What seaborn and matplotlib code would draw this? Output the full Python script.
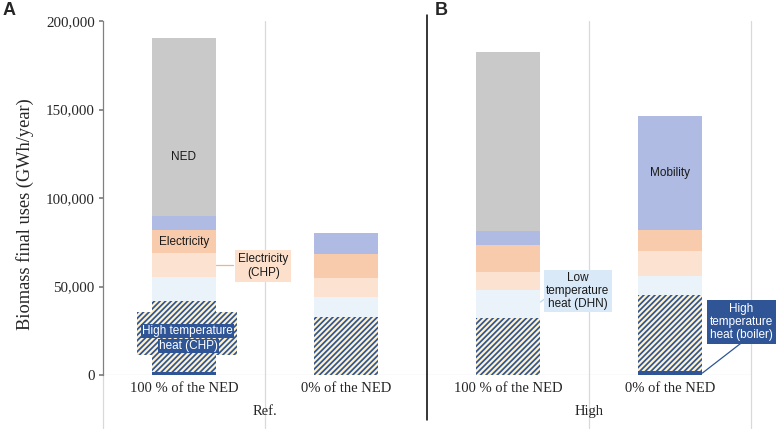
import matplotlib
matplotlib.use('Agg')
import matplotlib.pyplot as plt
import seaborn as sns
from matplotlib.patches import Rectangle
from matplotlib.ticker import FuncFormatter

sns.set_theme(style='white')
plt.rcParams['font.family'] = ['Liberation Serif', 'DejaVu Serif']
plt.rcParams['hatch.linewidth'] = 1.25
sans = ['Liberation Sans', 'DejaVu Sans']

# categories (one key per bar, labels repeat across the two groups)
keys = ['ref_100', 'ref_0', 'high_100', 'high_0']
tick_labels = ['100 % of the NED', '0% of the NED', '100 % of the NED', '0% of the NED']
groups = ['Ref.', 'High']

# GWh/year, stacked bottom -> top
ht_boiler = [1500, 0, 0, 2300]
ht_chp = [40300, 32800, 32200, 42900]
lt_dhn = [13600, 11300, 15800, 10700]
elec_chp = [13500, 10700, 10200, 14100]
elec = [13000, 13600, 15200, 11900]
mobility = [7900, 11800, 8000, 64400]
ned = [100600, 0, 101100, 0]

dark_blue = '#2F5597'
stripes = '//////'
series = [
    (ht_boiler, dict(facecolor=dark_blue, edgecolor=dark_blue)),
    (ht_chp, dict(facecolor='#FFF2CC', edgecolor=dark_blue, hatch=stripes)),
    (lt_dhn, dict(facecolor='#EAF2FA', edgecolor='#EAF2FA')),
    (elec_chp, dict(facecolor='#FCE2D1', edgecolor='#FCE2D1')),
    (elec, dict(facecolor='#F8CBAD', edgecolor='#F8CBAD')),
    (mobility, dict(facecolor='#AFBBE2', edgecolor='#AFBBE2')),
    (ned, dict(facecolor='#C9C9C9', edgecolor='#C9C9C9')),
]

fig, ax = plt.subplots(figsize=(7.82, 4.29), dpi=100)
fig.subplots_adjust(left=103/782, right=751/782, bottom=54/429, top=408/429)

bottom = [0, 0, 0, 0]
for vals, style in series:
    sns.barplot(x=keys, y=vals, order=keys, bottom=bottom, width=0.4,
                color=style['facecolor'], saturation=1, linewidth=0, ax=ax, **style)
    bottom = [b + v for b, v in zip(bottom, vals)]

ax.set_xlim(-0.5, 3.5)
ax.set_ylim(0, 200000)
ax.set_yticks([0, 50000, 100000, 150000, 200000])
ax.yaxis.set_major_formatter(FuncFormatter(lambda v, p: f'{v:,.0f}'))
ax.tick_params(axis='y', labelsize=10.8, length=3, color='#808080', left=True, pad=3)
ax.set_xticks(range(4))
ax.set_xticklabels(tick_labels, fontsize=10.5)
ax.tick_params(axis='x', length=0, pad=5)
ax.set_ylabel('Biomass final uses (GWh/year)', fontsize=13.2)
ax.yaxis.set_label_coords(-0.107, 0.455)
ax.set_xlabel('')

for s in ['top', 'right', 'bottom']:
    ax.spines[s].set_visible(False)
ax.spines['left'].set_color('#808080')
ax.spines['left'].set_linewidth(0.9)

grid_c = '#D9D9D9'
ax.axhline(0, color=grid_c, lw=0.9, zorder=0)
for xv in [0.5, 2.5, 3.5]:
    ax.axvline(xv, ymin=-0.15, ymax=1, color=grid_c, lw=0.9, clip_on=False, zorder=0)
ax.axvline(-0.5, ymin=-0.15, ymax=0, color=grid_c, lw=0.9, clip_on=False, zorder=0)
ax.axvline(1.5, ymin=-0.127, ymax=1.017, color='black', lw=1.1, clip_on=False, zorder=5)

trans = ax.get_xaxis_transform()
for gx, g in zip([0.5, 2.5], groups):
    ax.text(gx, -0.102, g, transform=trans, ha='center', va='center', fontsize=10.5)

# in-bar labels
ax.text(0, 123000, 'NED', ha='center', va='center', fontsize=8.5, family=sans, color='#1a1a1a')
ax.text(0, 75300, 'Electricity', ha='center', va='center', fontsize=8.5, family=sans, color='#1a1a1a')
ax.text(3, 114000, 'Mobility', ha='center', va='center', fontsize=8.5, family=sans, color='#1a1a1a')

# Electricity (CHP) callout
ax.plot([0.2, 0.3], [62000, 62000], color='#F4B183', lw=0.9)
ax.text(0.49, 61600, 'Electricity\n(CHP)', ha='center', va='center', fontsize=8.5,
        family=sans, color='#1a1a1a', linespacing=1.15,
        bbox=dict(boxstyle='square,pad=0.25', fc='#FCE0CC', ec='none'))

# High temperature heat (CHP) callout
ax.add_patch(Rectangle((-0.29, 11300), 0.62, 24300, facecolor='#FFF2CC',
                       edgecolor=dark_blue, hatch=stripes, linewidth=0, zorder=3))
ax.text(0.022, 24700, 'High temperature', ha='center', va='center', fontsize=8.5,
        family=sans, color='white', zorder=4,
        bbox=dict(boxstyle='square,pad=0.08', fc=dark_blue, ec='none'))
ax.text(0.03, 16300, 'heat (CHP)', ha='center', va='center', fontsize=8.5,
        family=sans, color='white', zorder=4,
        bbox=dict(boxstyle='square,pad=0.08', fc=dark_blue, ec='none'))

# Low temperature heat (DHN) callout
ax.plot([2.2, 2.25], [41200, 44600], color='#BDD7EE', lw=0.9)
ax.text(2.43, 47500, 'Low\ntemperature\nheat (DHN)', ha='center', va='center', fontsize=8.5,
        family=sans, color='#1a1a1a', linespacing=1.1,
        bbox=dict(boxstyle='square,pad=0.2', fc='#D9E9F7', ec='none'))

# High temperature heat (boiler) callout
ax.plot([3.2, 3.44], [1100, 18100], color=dark_blue, lw=0.9, clip_on=False)
ax.text(3.44, 30000, 'High\ntemperature\nheat (boiler)', ha='center', va='center', fontsize=8.5,
        family=sans, color='white', linespacing=1.1, clip_on=False,
        bbox=dict(boxstyle='square,pad=0.25', fc=dark_blue, ec='none'))

fig.text(3/782, 1 - 2/429, 'A', ha='left', va='top', fontsize=13, fontweight='bold', family=sans)
fig.text(435/782, 1 - 2/429, 'B', ha='left', va='top', fontsize=13, fontweight='bold', family=sans)

fig.savefig('out.png', dpi=100)
